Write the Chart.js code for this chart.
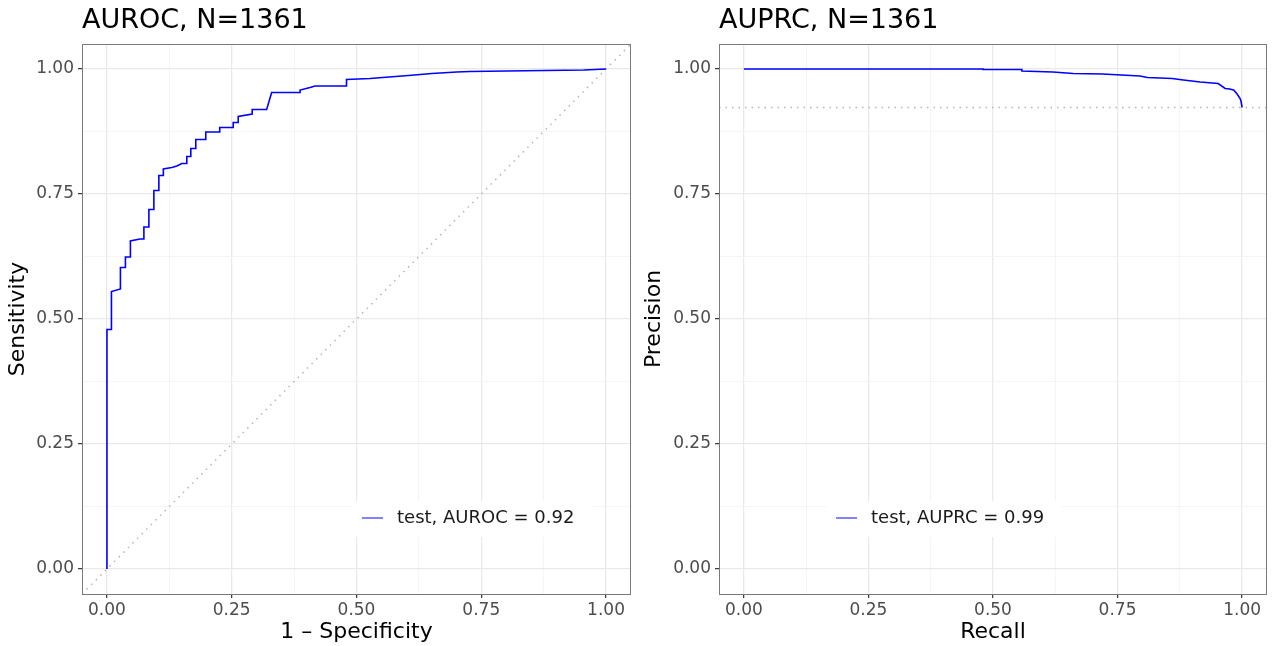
<!DOCTYPE html>
<html>
<head>
<meta charset="utf-8">
<script src="https://cdn.jsdelivr.net/npm/chart.js@4.4.0/dist/chart.umd.min.js"></script>
<style>
  html, body { margin: 0; padding: 0; background: #fff; }
  .wrap { position: relative; width: 1272px; height: 646px; }
  .panel { position: absolute; top: 0; width: 636px; height: 646px; }
  #leftPanel { left: 0; }
  #rightPanel { left: 636px; }
</style>
</head>
<body>
<div class="wrap">
  <div class="panel" id="leftPanel"><canvas id="rocChart" width="636" height="646"></canvas></div>
  <div class="panel" id="rightPanel"><canvas id="prcChart" width="636" height="646"></canvas></div>
</div>
<script>
// ROC curve
const fpr = [0, 0, 0.009, 0.009, 0.027, 0.027, 0.037, 0.037, 0.047, 0.047, 0.066, 0.074, 0.074,
  0.084, 0.084, 0.094, 0.094, 0.104, 0.104, 0.113, 0.113, 0.130, 0.140, 0.150, 0.160, 0.160,
  0.168, 0.168, 0.178, 0.178, 0.198, 0.198, 0.226, 0.226, 0.253, 0.253, 0.263, 0.263, 0.291,
  0.291, 0.320, 0.330, 0.387, 0.387, 0.407, 0.417, 0.480, 0.480, 0.527, 0.604, 0.651, 0.701,
  0.727, 0.80, 0.955, 1.0];
const tpr = [0, 0.479, 0.479, 0.555, 0.560, 0.603, 0.603, 0.624, 0.624, 0.656, 0.660, 0.660, 0.684,
  0.684, 0.719, 0.719, 0.757, 0.757, 0.787, 0.787, 0.800, 0.803, 0.806, 0.811, 0.811, 0.825,
  0.825, 0.841, 0.841, 0.859, 0.859, 0.874, 0.874, 0.883, 0.883, 0.893, 0.893, 0.905, 0.910,
  0.919, 0.919, 0.953, 0.953, 0.958, 0.963, 0.966, 0.966, 0.979, 0.981, 0.987, 0.991, 0.994,
  0.995, 0.996, 0.998, 1.0];

// Precision-recall curve
const recall = [0, 0.48, 0.48, 0.558, 0.558, 0.62, 0.661, 0.72, 0.795, 0.81, 0.86, 0.882,
  0.916, 0.952, 0.966, 0.975, 0.983, 0.990, 0.996, 0.998, 1.0];
const precision = [1.0, 1.0, 0.999, 0.999, 0.996, 0.994, 0.991, 0.990, 0.986, 0.983, 0.981,
  0.978, 0.974, 0.971, 0.961, 0.960, 0.958, 0.950, 0.941, 0.935, 0.923];

// reference lines
const chanceLine = [-0.05, 1.05];
const prcBaseline = 0.923;

// axis ticks
const majorTicks = [0, 0.25, 0.5, 0.75, 1];
const minorTicks = [0.125, 0.375, 0.625, 0.875];
const tickLabels = ['0.00', '0.25', '0.50', '0.75', '1.00'];

Chart.defaults.font.family = 'DejaVu Sans';
Chart.defaults.color = '#4d4d4d';

function isMajor(v) {
    return majorTicks.some(m => Math.abs(m - v) < 1e-6);
}

function makeAxis(titleText, axisWidth, isX) {
    return {
        type: 'linear',
        min: -0.05,
        max: 1.05,
        afterBuildTicks: (scale) => {
            scale.ticks = majorTicks.concat(minorTicks).sort((a, b) => a - b).map(v => ({ value: v }));
        },
        afterFit: (scale) => {
            if (isX) scale.height = 52;
            else scale.width = axisWidth;
        },
        ticks: {
            autoSkip: false,
            maxRotation: 0,
            padding: isX ? 2 : 4,
            font: { size: 17 },
            color: '#4d4d4d',
            callback: (v) => {
                const i = majorTicks.findIndex(m => Math.abs(m - v) < 1e-6);
                return i >= 0 ? tickLabels[i] : '';
            }
        },
        grid: {
            drawTicks: true,
            tickLength: 4,
            color: (ctx) => (ctx.tick && isMajor(ctx.tick.value)) ? '#e9e9e9' : '#f3f3f3',
            lineWidth: (ctx) => (ctx.tick && isMajor(ctx.tick.value)) ? 1.3 : 0.8,
            tickColor: (ctx) => (ctx.tick && isMajor(ctx.tick.value)) ? '#333333' : 'rgba(0,0,0,0)',
            tickWidth: 1.2
        },
        border: { display: false },
        title: {
            display: true,
            text: titleText,
            color: '#000',
            font: { size: 22 },
            padding: isX ? { top: 0, bottom: 1 } : { top: 5, bottom: 0 }
        }
    };
}

// panel border + legend drawn inside the plot area
const panelDecor = {
    id: 'panelDecor',
    afterDatasetsDraw(chart, args, opts) {
        const { ctx, chartArea: a } = chart;
        ctx.save();
        // legend
        const ds = chart.data.datasets[0];
        const bx = a.left + opts.legendLeft;
        const by = a.top + opts.legendTop;
        ctx.fillStyle = '#fff';
        ctx.fillRect(bx, by, opts.legendWidth, 36);
        ctx.strokeStyle = 'rgba(0,0,255,0.55)';
        ctx.lineWidth = 1.8;
        ctx.beginPath();
        ctx.moveTo(bx + 10, by + 17);
        ctx.lineTo(bx + 31, by + 17);
        ctx.stroke();
        ctx.fillStyle = '#1a1a1a';
        ctx.font = '18px "DejaVu Sans"';
        ctx.textBaseline = 'middle';
        ctx.textAlign = 'left';
        ctx.fillText(ds.label, bx + 45, by + 17);
        // border
        ctx.strokeStyle = '#7a7a7a';
        ctx.lineWidth = 1;
        ctx.strokeRect(Math.round(a.left) + 0.5, Math.round(a.top) + 0.5,
            Math.round(a.right - a.left) - 1, Math.round(a.bottom - a.top));
        ctx.restore();
    }
};

function makeOptions(title, xTitle, yTitle, yWidth, legendOpts) {
    return {
        responsive: false,
        animation: false,
        layout: { padding: { left: 0, right: 5, top: 0, bottom: 0 } },
        elements: { point: { radius: 0 } },
        scales: {
            x: makeAxis(xTitle, 0, true),
            y: makeAxis(yTitle, yWidth, false)
        },
        plugins: {
            legend: { display: false },
            tooltip: { enabled: false },
            title: {
                display: true,
                text: title,
                align: 'start',
                fullSize: false,
                color: '#000',
                font: { size: 27, weight: 'normal' },
                padding: { top: 5, bottom: 6.6 }
            },
            panelDecor: legendOpts
        }
    };
}

new Chart(document.getElementById('rocChart').getContext('2d'), {
    type: 'line',
    data: {
        datasets: [{
            label: 'test, AUROC = 0.92',
            data: fpr.map((x, i) => ({ x: x, y: tpr[i] })),
            borderColor: '#0000ff',
            borderWidth: 1.6,
            tension: 0,
            order: 0
        }, {
            label: 'chance',
            data: chanceLine.map(v => ({ x: v, y: v })),
            borderColor: '#b5b5b5',
            borderWidth: 1.5,
            borderDash: [1.5, 5],
            order: 1
        }]
    },
    options: makeOptions('AUROC, N=1361', '1 \u2013 Specificity', 'Sensitivity', 82,
        { legendLeft: 270, legendTop: 457, legendWidth: 240 }),
    plugins: [panelDecor]
});

new Chart(document.getElementById('prcChart').getContext('2d'), {
    type: 'line',
    data: {
        datasets: [{
            label: 'test, AUPRC = 0.99',
            data: recall.map((x, i) => ({ x: x, y: precision[i] })),
            borderColor: '#0000ff',
            borderWidth: 1.6,
            tension: 0,
            order: 0
        }, {
            label: 'baseline',
            data: chanceLine.map(v => ({ x: v, y: prcBaseline })),
            borderColor: '#b5b5b5',
            borderWidth: 1.5,
            borderDash: [1.5, 5],
            order: 1
        }]
    },
    options: makeOptions('AUPRC, N=1361', 'Recall', 'Precision', 83,
        { legendLeft: 107, legendTop: 457, legendWidth: 236 }),
    plugins: [panelDecor]
});
</script>
</body>
</html>
